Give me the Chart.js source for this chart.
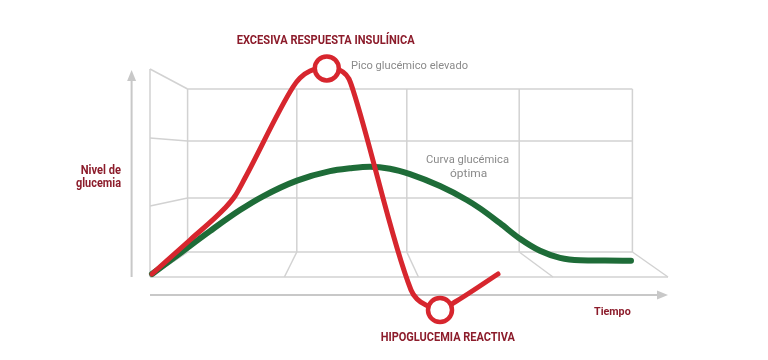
<!DOCTYPE html>
<html><head><meta charset="utf-8">
<script src="https://cdn.jsdelivr.net/npm/chart.js@4/dist/chart.umd.min.js"></script>
<style>html,body{margin:0;padding:0;background:#fff;}#wrap{width:768px;height:360px;position:relative;}</style>
</head><body><div id="wrap"><canvas id="c" width="768" height="360"></canvas></div>
<script>
// ---- data (time units, glucose level units) ----
const redTime      = [0.5, 10, 18.75, 21.25, 23.75, 35.75, 37.5, 40, 44.2, 48.25, 49.75, 50.75, 65.25, 66.75, 69.5, 72.5, 76.25, 87];
const redGlucose   = [1.5, 18.5, 34.5, 40.5, 49.5, 95, 99.5, 103, 104.5, 102.5, 99, 93.5, -6.5, -11, -14.5, -16.5, -12.5, 1.5];
const greenTime    = [0.5, 7.75, 15, 22.5, 28.25, 36.75, 45, 50, 55, 60, 65, 72.5, 79.2, 82.5, 87.5, 92.5, 97.5, 102.5, 107.5, 113.75, 120.25];
const greenGlucose = [1.5, 12.25, 22.95, 33.45, 40.35, 48.2, 52.95, 54.35, 55.15, 54.15, 51.45, 45.45, 38.5, 34.3, 26.9, 19.1, 13.1, 9.6, 8.4, 8.25, 8.1];
const markerTime    = [44.2, 72.5];
const markerGlucose = [104.3, -16.5];

// ---- decoration geometry (same units) ----
const backT  = [9.4, 36.7, 64.2, 92.3, 120.6];
const frontT = [0, 33.6, 67.1, 100.75, 129.5];
const backG  = [12.5, 39.5, 68, 94];
const wallG  = [0, 35.5, 69.5, 104];

const RED = '#d7262e', GREEN = '#1e6c38', DARK = '#8c1c2b', GRAY = '#8a8a8a';

function pts(xs, ys){ return xs.map((x,i)=>({x:x, y:ys[i]})); }

const decor = {
  id:'decor',
  beforeDatasetsDraw(chart){
    const ctx = chart.ctx, X = chart.scales.x, Y = chart.scales.y;
    const P = (t,g)=>[X.getPixelForValue(t), Y.getPixelForValue(g)];
    const line = (a,b)=>{ ctx.beginPath(); ctx.moveTo(a[0],a[1]); ctx.lineTo(b[0],b[1]); ctx.stroke(); };
    ctx.save();
    ctx.strokeStyle = '#d2d2d2'; ctx.lineWidth = 1.5; ctx.lineCap='butt';
    const bBot = backG[0], bTop = backG[backG.length-1];
    backT.forEach((t,i)=>{ line(P(t,bBot),P(t,bTop)); line(P(t,bBot),P(frontT[i],0)); });
    backG.forEach((g,i)=>{ line(P(backT[0],g),P(backT[backT.length-1],g)); line(P(0,wallG[i]),P(backT[0],g)); });
    line(P(0,0),P(0,wallG[wallG.length-1]));
    line(P(0,0),P(frontT[frontT.length-1],0));
    // axes arrows
    ctx.strokeStyle = '#c8c8c8'; ctx.fillStyle='#c8c8c8'; ctx.lineWidth = 2;
    const ax = P(-4.6,0), ay = P(-4.6,103.5);
    line(ax,[ay[0],ay[1]+8]);
    ctx.beginPath(); ctx.moveTo(ay[0],ay[1]); ctx.lineTo(ay[0]-4.5,ay[1]+11); ctx.lineTo(ay[0]+4.5,ay[1]+11); ctx.closePath(); ctx.fill();
    const bx = P(0,-9), by = P(129.5,-9);
    line(bx,[by[0]-8,by[1]]);
    ctx.beginPath(); ctx.moveTo(by[0],by[1]); ctx.lineTo(by[0]-11,by[1]-4.5); ctx.lineTo(by[0]-11,by[1]+4.5); ctx.closePath(); ctx.fill();
    ctx.restore();
  },
  afterDraw(chart){
    const ctx = chart.ctx;
    const txt = (s, left, base, width, font, color)=>{
      ctx.save(); ctx.font = font; ctx.fillStyle = color; ctx.textAlign='left'; ctx.textBaseline='alphabetic';
      const w = ctx.measureText(s).width; const sx = width / w;
      ctx.translate(left, base); ctx.scale(sx,1); ctx.fillText(s,0,0); ctx.restore();
    };
    const B = 'bold 12px Roboto, "Liberation Sans", sans-serif';
    const R = '11px Roboto, "Liberation Sans", sans-serif';
    txt('EXCESIVA RESPUESTA INSULÍNICA', 236.7, 44, 178, B, DARK);
    txt('Pico glucémico elevado', 351, 69.3, 117, R, GRAY);
    txt('Nivel de', 80.7, 174.3, 40.3, B, DARK);
    txt('glucemia', 76, 187, 45, B, DARK);
    txt('Curva glucémica', 426, 163.3, 83, '11.5px Roboto, "Liberation Sans", sans-serif', GRAY);
    txt('óptima', 450, 176.7, 37.3, '11.5px Roboto, "Liberation Sans", sans-serif', GRAY);
    txt('Tiempo', 594, 315, 36.7, 'bold 11.5px Roboto, "Liberation Sans", sans-serif', DARK);
    txt('HIPOGLUCEMIA REACTIVA', 380.7, 341, 134.3, B, DARK);
  }
};

new Chart(document.getElementById('c'), {
  type:'line',
  data:{ datasets:[
    { label:'Marcadores', data:pts(markerTime, markerGlucose), showLine:false, pointRadius:12, pointHoverRadius:12,
      pointBackgroundColor:'#ffffff', pointBorderColor:RED, pointBorderWidth:4.5, clip:false },
    { label:'Excesiva respuesta insulínica', data:pts(redTime, redGlucose), borderColor:RED, borderWidth:5,
      pointRadius:0, cubicInterpolationMode:'monotone', fill:false, clip:false, borderCapStyle:'round', borderJoinStyle:'round' },
    { label:'Curva glucémica óptima', data:pts(greenTime, greenGlucose), borderColor:GREEN, borderWidth:6,
      pointRadius:0, cubicInterpolationMode:'monotone', fill:false, clip:false, borderCapStyle:'round', borderJoinStyle:'round' }
  ]},
  options:{
    responsive:false, animation:false, devicePixelRatio:1,
    layout:{ padding:{ left:150, right:100, top:53, bottom:33 } },
    plugins:{ legend:{display:false}, tooltip:{enabled:false}, title:{display:false} },
    scales:{
      x:{ type:'linear', min:0, max:129.5, display:false },
      y:{ type:'linear', min:-25, max:112, display:false }
    }
  },
  plugins:[decor]
});
</script></body></html>
